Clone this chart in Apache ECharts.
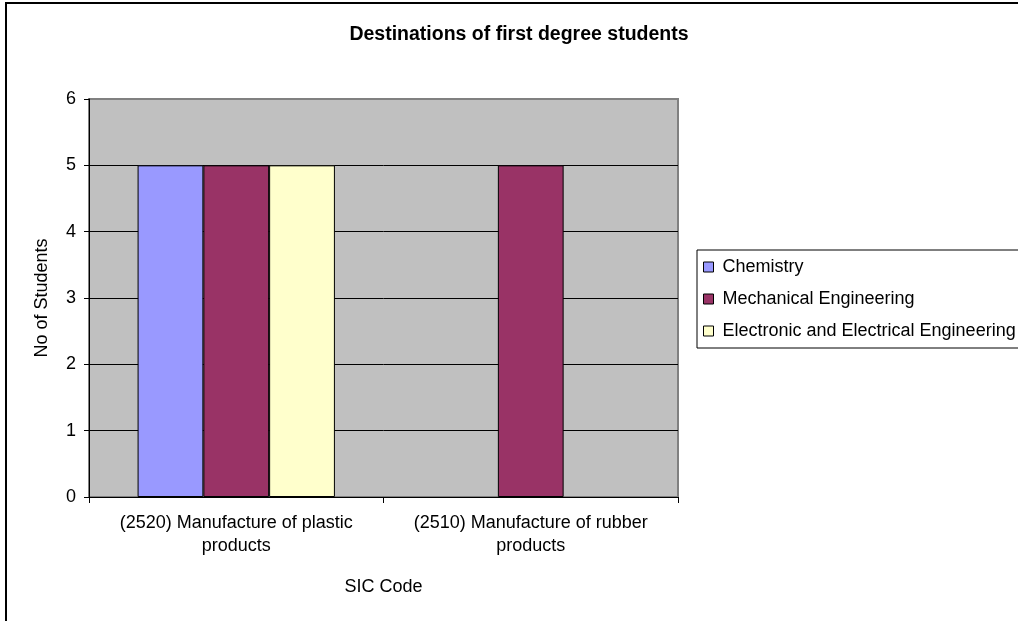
<!DOCTYPE html>
<html>
<head>
<meta charset="utf-8">
<script src="https://cdn.jsdelivr.net/npm/echarts@6/dist/echarts.min.js"></script>
<style>
  html, body { margin: 0; padding: 0; background: #fff; overflow: hidden; }
  #frame { position: absolute; left: 5px; top: 2px; width: 1013px; height: 619px;
           border-top: 2px solid #000; border-left: 2px solid #000; box-sizing: border-box; }
  #chart { position: absolute; left: 0; top: 0; width: 1018px; height: 621px; }
</style>
</head>
<body>
<div id="frame"></div>
<div id="chart"></div>
<script>
// SIC code categories along the x axis
const categories = [
  '(2520) Manufacture of plastic\nproducts',
  '(2510) Manufacture of rubber\nproducts'
];
// Students per subject in each category ('-' = none)
const chemistry = [5, '-'];
const mechanicalEngineering = [5, 5];
const electronicEngineering = [5, '-'];
const yTicks = [0, 1, 2, 3, 4, 5, 6];

const font = '"Liberation Sans", Arial, sans-serif';
const chart = echarts.init(document.getElementById('chart'), null, { renderer: 'canvas' });

const barBase = {
  type: 'bar',
  barGap: '0%',
  barCategoryGap: '33%'
};
const barStyle = (color) => ({ color: color, borderColor: '#000', borderWidth: 1 });

chart.setOption({
  animation: false,
  backgroundColor: 'transparent',
  textStyle: { fontFamily: font },
  title: {
    text: 'Destinations of first degree students',
    left: 514, top: 20, textAlign: 'center',
    textStyle: { fontFamily: font, fontSize: 19.5, fontWeight: 'bold', color: '#000' }
  },
  legend: {
    orient: 'vertical',
    left: 697, top: 250,
    padding: [8, 20, 8, 6],
    itemWidth: 10, itemHeight: 10, itemGap: 14,
    borderColor: '#000', borderWidth: 1,
    icon: 'rect',
    itemStyle: { borderColor: '#000', borderWidth: 1 },
    textStyle: { fontFamily: font, fontSize: 18, color: '#000', lineHeight: 18, padding: [0, 0, 0, 4] },
    data: ['Chemistry', 'Mechanical Engineering', 'Electronic and Electrical Engineering']
  },
  grid: {
    left: 89, right: 340, top: 99, bottom: 124,
    show: true, backgroundColor: '#C0C0C0', borderColor: '#808080', borderWidth: 2,
    containLabel: false
  },
  xAxis: {
    type: 'category',
    data: categories,
    name: 'SIC Code',
    nameLocation: 'middle',
    nameGap: 81,
    nameTextStyle: { fontFamily: font, fontSize: 18, color: '#000' },
    axisLine: { lineStyle: { color: '#000', width: 1 } },
    axisTick: { show: true, length: 6, lineStyle: { color: '#000' } },
    axisLabel: { fontFamily: font, fontSize: 18, color: '#000', margin: 15, lineHeight: 23, interval: 0 }
  },
  yAxis: {
    type: 'value',
    min: yTicks[0], max: yTicks[yTicks.length - 1], interval: 1,
    name: 'No of Students',
    nameLocation: 'middle',
    nameGap: 38,
    nameRotate: 90,
    nameTextStyle: { fontFamily: font, fontSize: 18, color: '#000' },
    axisLine: { show: true, lineStyle: { color: '#000', width: 1 } },
    axisTick: { show: true, length: 5, lineStyle: { color: '#000' } },
    axisLabel: { fontFamily: font, fontSize: 18, color: '#000', margin: 13 },
    splitLine: { show: true, lineStyle: { color: ['#000', '#000', '#000', '#000', '#000', '#000', '#808080'], width: 1 } }
  },
  series: [
    Object.assign({}, barBase, { name: 'Chemistry', data: chemistry, itemStyle: barStyle('#9999FF') }),
    Object.assign({}, barBase, { name: 'Mechanical Engineering', data: mechanicalEngineering, itemStyle: barStyle('#993366') }),
    Object.assign({}, barBase, { name: 'Electronic and Electrical Engineering', data: electronicEngineering, itemStyle: barStyle('#FFFFCC') })
  ]
});
</script>
</body>
</html>
